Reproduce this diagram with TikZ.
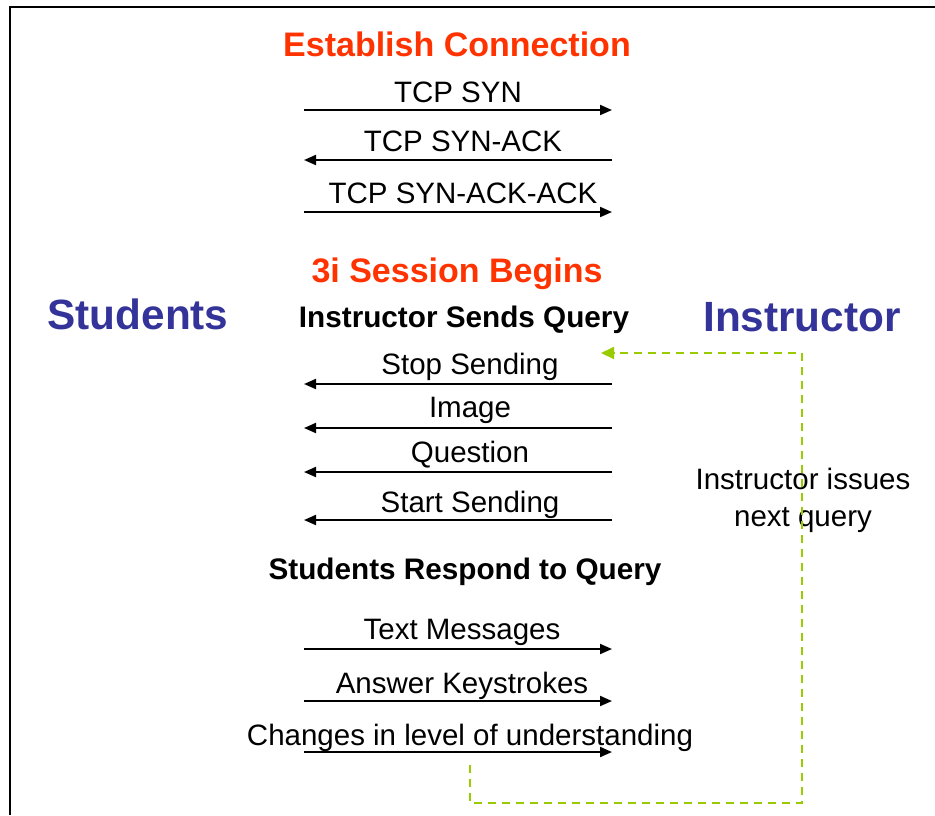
\documentclass[tikz,border=0pt]{standalone}
\usepackage{fontspec}
\setmainfont{Liberation Sans}
\usetikzlibrary{arrows.meta}
\definecolor{redor}{HTML}{FF3300}
\definecolor{navy}{HTML}{333399}
\definecolor{lime}{HTML}{99CC00}
\tikzset{
  msg/.style={anchor=base, inner sep=0pt, font=\fontsize{29.5}{32}\selectfont},
  hdr/.style={anchor=base, inner sep=0pt, font=\fontsize{29.7}{32}\selectfont\bfseries},
  ttl/.style={anchor=base, inner sep=0pt, text=redor, font=\fontsize{34}{38}\selectfont\bfseries},
  party/.style={anchor=base, inner sep=0pt, text=navy, font=\fontsize{42.3}{46}\selectfont\bfseries},
  arr/.style={line width=2pt, -{Triangle[length=12pt,width=10pt]}},
  fb/.style={line width=2pt, lime, dash pattern=on 8pt off 6pt, -{Triangle[length=13pt,width=12pt]}},
  frame/.style={line width=2.5pt}
}
\begin{document}
\begin{tikzpicture}[x=1pt,y=-1pt]
\useasboundingbox (0,0) rectangle (935,815);
\draw[frame] (935,7) -- (10,7) -- (10,815);

\node[ttl] (t1) at (457,56) {Establish Connection};
\node[msg] (m1) at (458,102.5) {TCP SYN};
\node[msg] (m2) at (463,151.5) {TCP SYN-ACK};
\node[msg] (m3) at (463,203.5) {TCP SYN-ACK-ACK};
\node[ttl] (t2) at (457,282) {3i Session Begins};
\node[party] (stu) at (138,329) {Students};
\node[party] (ins) at (802,331) {Instructor};
\node[hdr] (h1) at (464,327.5) {Instructor Sends Query};
\node[msg] (m4) at (470,374) {Stop Sending};
\node[msg] (m5) at (470,417) {Image};
\node[msg] (m6) at (470,462) {Question};
\node[msg] (m7) at (470,512) {Start Sending};
\node[hdr] (h2) at (465,579) {Students Respond to Query};
\node[msg] (m8) at (462,639) {Text Messages};
\node[msg] (m9) at (462,693) {Answer Keystrokes};
\node[msg] (m10) at (470,745) {Changes in level of understanding};
\node[msg] (n1) at (803,489) {Instructor issues};
\node[msg] (n2) at (803,526) {next query};

\foreach \i/\y in {a/110,b/160,c/212,d/384,e/428,f/472,g/520,h/649,i/701,j/752}{
  \coordinate (L\i) at (304,\y);
  \coordinate (R\i) at (612,\y);
}
\draw[arr] (La) -- (Ra);
\draw[arr] (Rb) -- (Lb);
\draw[arr] (Lc) -- (Rc);
\draw[arr] (Rd) -- (Ld);
\draw[arr] (Re) -- (Le);
\draw[arr] (Rf) -- (Lf);
\draw[arr] (Rg) -- (Lg);
\draw[arr] (Lh) -- (Rh);
\draw[arr] (Li) -- (Ri);
\draw[arr] (Lj) -- (Rj);

\coordinate (fs) at (470,765);
\coordinate (fe) at (601,353);
\draw[fb] (fs) -- (470,803) -- (802,803) -- (802,353) -- (fe);
\end{tikzpicture}
\end{document}
